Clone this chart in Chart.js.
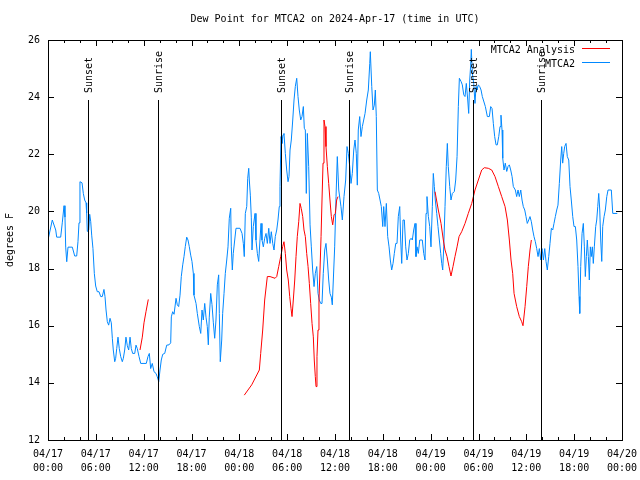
<!DOCTYPE html>
<html>
<head>
<meta charset="utf-8">
<script src="https://cdn.jsdelivr.net/npm/chart.js@4.4.0/dist/chart.umd.min.js"></script>
<style>
  body { margin: 0; background: #fff; }
  #wrap { width: 640px; height: 480px; }
</style>
</head>
<body>
<div id="wrap"><canvas id="dew-chart" width="640" height="480"></canvas></div>
<script>
const chartTitle = 'Dew Point for MTCA2 on 2024-Apr-17 (time in UTC)';
const yTitle = 'degrees F';

// x is hours since 04/17 00:00 UTC
const tickLabels = [
    ['04/17', '00:00'], ['04/17', '06:00'], ['04/17', '12:00'], ['04/17', '18:00'],
    ['04/18', '00:00'], ['04/18', '06:00'], ['04/18', '12:00'], ['04/18', '18:00'],
    ['04/19', '00:00'], ['04/19', '06:00'], ['04/19', '12:00'], ['04/19', '18:00'],
    ['04/20', '00:00']
];
const sunsetHours = [5.02, 29.23, 53.31];
const sunriseHours = [13.80, 37.76, 61.84];
const eventLineTop = 23.9; // degrees F where the sun lines start

// MTCA2 Analysis (gaps where no analysis)
const analysis = [
    [11.54, 15.15], [11.83, 15.6], [12.04, 16.1], [12.29, 16.49], [12.58, 16.92],
    [18.0, null],
    [24.62, 13.57], [25.55, 13.93], [26.51, 14.45], [26.68, 15.03], [26.93, 15.85], [27.18, 16.9],
    [27.51, 17.72], [27.85, 17.72], [28.48, 17.66], [28.69, 17.72], [28.94, 18.07], [29.19, 18.42],
    [29.44, 18.77], [29.60, 18.94], [29.77, 18.53], [29.94, 17.95], [30.14, 17.6], [30.32, 17.02],
    [30.48, 16.61], [30.61, 16.32], [30.77, 16.9], [30.95, 17.6], [31.11, 18.42], [31.27, 19.12],
    [31.45, 19.64], [31.61, 20.28], [31.77, 20.1], [31.95, 19.82], [32.11, 19.35], [32.28, 19.12],
    [32.45, 18.53], [32.62, 18.07], [32.78, 17.48], [32.95, 16.78], [33.12, 16.08], [33.28, 15.61],
    [33.40, 14.8], [33.53, 14.22], [33.62, 13.87], [33.74, 14.92], [33.87, 15.85], [33.99, 16.9],
    [34.12, 17.95], [34.25, 19.12], [34.37, 20.4], [34.50, 21.69], [34.62, 23.2], [34.75, 22.97],
    [34.87, 22.27], [35.04, 21.57], [35.21, 20.98], [35.37, 20.4], [35.54, 19.82], [35.71, 19.53],
    [35.88, 19.88], [36.04, 19.93], [36.21, 20.4], [36.38, 20.52],
    [42.0, null],
    [48.55, 20.69], [48.96, 20.05], [49.30, 19.58], [49.59, 19.0], [49.80, 18.65], [50.05, 18.42],
    [50.30, 18.07], [50.55, 17.74], [50.80, 18.07], [51.05, 18.42], [51.31, 18.76], [51.56, 19.12],
    [51.89, 19.29], [52.31, 19.58], [52.72, 19.93], [53.15, 20.28], [53.56, 20.75], [53.98, 21.1],
    [54.40, 21.45], [54.73, 21.53], [55.23, 21.51], [55.66, 21.45], [56.07, 21.22], [56.49, 20.87],
    [56.91, 20.52], [57.33, 20.17], [57.62, 19.7], [57.87, 19.0], [58.08, 18.3], [58.29, 17.83],
    [58.46, 17.13], [58.79, 16.67], [59.12, 16.32], [59.42, 16.14], [59.58, 16.0], [59.84, 16.67],
    [60.05, 17.37], [60.25, 18.07], [60.46, 18.65], [60.63, 19.0]
];

// MTCA2 observations
const observed = [
    [0.00, 19.0], [0.54, 19.7], [0.97, 19.35], [1.09, 19.1], [1.59, 19.1], [1.79, 19.6], [2.01, 20.2],
    [2.13, 19.8], [2.22, 18.75], [2.35, 18.24], [2.51, 18.75], [3.05, 18.75], [3.35, 18.44], [3.60, 18.44],
    [3.76, 18.94], [3.89, 19.6], [4.01, 21.04], [4.27, 21.0], [4.43, 20.63], [4.60, 20.4], [4.77, 20.3],
    [4.85, 19.94], [4.93, 19.3], [5.11, 19.35], [5.23, 19.9], [5.36, 19.64], [5.48, 19.17], [5.64, 18.7],
    [5.81, 17.83], [5.98, 17.39], [6.18, 17.19], [6.40, 17.19], [6.61, 17.02], [6.81, 17.02], [7.02, 17.27],
    [7.15, 17.02], [7.28, 16.55], [7.44, 16.14], [7.61, 16.02], [7.78, 16.26], [7.94, 16.1], [8.07, 15.56],
    [8.19, 15.15], [8.37, 14.74], [8.49, 14.86], [8.62, 15.2], [8.78, 15.6], [8.94, 15.2], [9.12, 14.92],
    [9.32, 14.74], [9.45, 14.86], [9.62, 15.15], [9.78, 15.6], [9.95, 15.3], [10.12, 15.15], [10.29, 15.6],
    [10.45, 15.2], [10.62, 15.03], [10.88, 15.03], [11.04, 15.32], [11.20, 15.2], [11.42, 14.92],
    [11.63, 14.68], [12.04, 14.68], [12.33, 14.68], [12.54, 14.92], [12.71, 15.03], [12.88, 14.5],
    [13.08, 14.68], [13.30, 14.39], [13.55, 14.33], [13.71, 14.21], [13.89, 14.04], [14.05, 14.45],
    [14.21, 14.8], [14.39, 15.0], [14.64, 15.03], [14.89, 15.32], [15.18, 15.33], [15.39, 15.4],
    [15.47, 16.31], [15.64, 16.49], [15.81, 16.4], [16.06, 16.96], [16.22, 16.73], [16.39, 16.67],
    [16.56, 17.07], [16.72, 17.72], [16.90, 18.13], [17.06, 18.42], [17.22, 18.77], [17.40, 19.1],
    [17.56, 19.0], [17.72, 18.77], [17.90, 18.47], [18.06, 18.25], [18.23, 17.83], [18.31, 17.07],
    [18.57, 16.78], [18.73, 16.43], [18.98, 15.97], [19.16, 15.73], [19.32, 16.55], [19.48, 16.2],
    [19.66, 16.78], [19.82, 16.3], [19.98, 15.97], [20.11, 15.33], [20.23, 16.3], [20.41, 17.13],
    [20.57, 16.74], [20.74, 16.1], [20.91, 15.56], [21.07, 16.2], [21.24, 17.43], [21.41, 17.78],
    [21.49, 16.43], [21.61, 14.74], [21.79, 15.5], [21.91, 16.43], [22.08, 17.13], [22.24, 17.83],
    [22.42, 18.3], [22.58, 18.76], [22.74, 19.76], [22.92, 20.11], [22.99, 18.76], [23.12, 17.95],
    [23.24, 18.53], [23.42, 19.0], [23.58, 19.41], [24.08, 19.41], [24.34, 19.23], [24.50, 18.88],
    [24.62, 18.42], [24.75, 19.93], [24.93, 20.17], [25.05, 21.16], [25.18, 21.51], [25.25, 21.1],
    [25.38, 20.57], [25.50, 19.8], [25.59, 18.65], [25.75, 19.47], [25.97, 19.93], [26.09, 19.0],
    [26.26, 18.53], [26.43, 18.25], [26.59, 19.0], [26.72, 19.58], [26.84, 19.0], [27.01, 18.76],
    [27.18, 19.06], [27.35, 19.23], [27.51, 18.88], [27.69, 19.41], [27.85, 18.88], [28.01, 19.29],
    [28.19, 18.88], [28.35, 18.65], [28.51, 19.12], [28.69, 19.35], [28.85, 19.7], [29.01, 20.17],
    [29.10, 20.87], [29.23, 22.62], [29.35, 22.38], [29.48, 22.68], [29.60, 22.73], [29.77, 22.03],
    [29.94, 21.45], [30.11, 21.04], [30.23, 21.22], [30.36, 22.15], [30.52, 22.5], [30.70, 23.2],
    [30.86, 23.9], [31.02, 24.37], [31.20, 24.66], [31.36, 24.02], [31.52, 23.55], [31.70, 23.2],
    [31.86, 23.32], [32.03, 23.67], [32.15, 22.91], [32.28, 22.85], [32.40, 20.63], [32.53, 22.73],
    [32.70, 21.57], [32.87, 19.53], [33.03, 18.76], [33.20, 17.95], [33.37, 17.37], [33.53, 17.83],
    [33.71, 18.07], [33.87, 17.13], [34.03, 16.9], [34.21, 16.78], [34.37, 16.78], [34.53, 17.83],
    [34.71, 18.65], [34.87, 18.88], [35.04, 18.3], [35.21, 17.6], [35.37, 17.13], [35.54, 17.0],
    [35.66, 16.73], [35.79, 17.6], [35.96, 18.76], [36.13, 20.52], [36.29, 21.92], [36.47, 20.75],
    [36.75, 20.17], [36.92, 19.7], [37.13, 20.52], [37.34, 21.1], [37.51, 22.27], [37.67, 22.03],
    [37.85, 21.57], [38.01, 20.98], [38.17, 21.33], [38.35, 22.15], [38.51, 22.5], [38.67, 22.03],
    [38.80, 20.92], [38.92, 22.85], [39.10, 23.32], [39.26, 22.62], [39.43, 22.97], [39.60, 23.2],
    [39.77, 23.43], [39.98, 23.9], [40.18, 24.25], [40.36, 25.18], [40.43, 25.59], [40.61, 24.37],
    [40.77, 23.55], [40.93, 23.72], [41.06, 24.25], [41.18, 23.32], [41.31, 20.75], [41.48, 20.63],
    [41.65, 20.4], [41.81, 20.17], [41.99, 19.47], [42.11, 20.17], [42.27, 19.47], [42.44, 20.28],
    [42.61, 19.12], [42.78, 18.76], [42.94, 18.3], [43.11, 17.95], [43.28, 18.18], [43.44, 18.53],
    [43.62, 18.88], [43.78, 18.88], [43.94, 19.82], [44.12, 20.17], [44.24, 19.0], [44.37, 18.18],
    [44.53, 19.7], [44.70, 19.7], [44.87, 18.76], [45.03, 18.3], [45.20, 18.53], [45.37, 19.0],
    [45.54, 19.06], [45.70, 19.0], [45.87, 19.35], [46.04, 19.58], [46.16, 18.42], [46.29, 18.76],
    [46.45, 18.53], [46.63, 19.0], [46.95, 19.0], [47.13, 18.53], [47.29, 18.3], [47.42, 19.93],
    [47.54, 20.52], [47.71, 19.82], [47.88, 19.47], [48.04, 18.76], [48.21, 20.17], [48.33, 21.33],
    [48.46, 20.87], [48.58, 20.4], [48.76, 19.93], [48.92, 19.47], [49.09, 19.0], [49.26, 18.53],
    [49.39, 18.18], [49.51, 17.95], [49.64, 18.76], [49.80, 20.17], [49.96, 21.57], [50.09, 22.38],
    [50.21, 21.57], [50.39, 20.87], [50.55, 20.4], [50.72, 20.63], [50.97, 20.7], [51.14, 21.1],
    [51.31, 21.92], [51.47, 23.67], [51.60, 24.66], [51.81, 24.55], [51.97, 24.43], [52.15, 24.08],
    [52.31, 24.02], [52.47, 24.48], [52.65, 23.9], [52.77, 23.43], [52.90, 24.6], [53.02, 25.12],
    [53.10, 25.67], [53.23, 24.83], [53.40, 24.48], [53.56, 23.78], [53.69, 24.37], [53.81, 24.25],
    [53.98, 24.43], [54.15, 24.37], [54.32, 24.25], [54.48, 24.02], [54.61, 23.9], [54.86, 23.67],
    [55.11, 23.32], [55.36, 23.32], [55.53, 23.67], [55.70, 23.6], [55.86, 23.08], [56.03, 22.62],
    [56.20, 22.33], [56.36, 22.33], [56.54, 22.62], [56.70, 22.97], [56.82, 23.37], [56.95, 22.85],
    [57.04, 21.86], [57.20, 21.45], [57.36, 21.69], [57.54, 21.4], [57.70, 21.57], [57.87, 21.63],
    [58.04, 21.45], [58.21, 21.22], [58.37, 20.87], [58.62, 20.75], [58.79, 20.52], [58.96, 20.75],
    [59.12, 20.52], [59.30, 20.75], [59.46, 20.4], [59.62, 20.17], [59.80, 20.05], [59.96, 19.82],
    [60.12, 19.58], [60.30, 19.7], [60.46, 19.82], [60.63, 19.64], [60.80, 19.35], [60.96, 19.12],
    [61.13, 18.94], [61.30, 18.7], [61.47, 18.42], [61.63, 18.7], [61.81, 18.3], [61.97, 18.7],
    [62.14, 18.3], [62.31, 18.7], [62.47, 18.25], [62.63, 17.95], [62.81, 18.42], [62.97, 18.88],
    [63.14, 19.41], [63.31, 19.35], [63.47, 19.58], [63.64, 19.82], [63.81, 20.05], [63.97, 20.22],
    [64.14, 20.98], [64.31, 21.8], [64.44, 22.27], [64.56, 21.69], [64.69, 22.03], [64.81, 22.27],
    [64.98, 22.38], [65.14, 21.92], [65.32, 21.8], [65.48, 20.87], [65.64, 20.4], [65.82, 19.82],
    [65.98, 19.47], [66.15, 19.47], [66.32, 19.0], [66.48, 18.07], [66.61, 17.02], [66.70, 16.43],
    [66.82, 18.07], [66.99, 19.23], [67.15, 19.58], [67.28, 18.76], [67.40, 17.72], [67.53, 18.42],
    [67.65, 19.0], [67.78, 18.42], [67.90, 17.6], [68.03, 18.76], [68.15, 18.42], [68.28, 18.76],
    [68.40, 18.18], [68.53, 18.76], [68.70, 19.47], [68.83, 19.7], [68.96, 20.17], [69.08, 20.63],
    [69.21, 20.05], [69.33, 19.0], [69.46, 18.25], [69.58, 19.47], [69.75, 19.82], [69.91, 20.05],
    [70.09, 20.52], [70.25, 20.75], [70.66, 20.75], [70.84, 19.93], [71.41, 19.93]
];

const redColor = '#ff0000';
const blueColor = '#0088ff';
const mono = 'DejaVu Sans Mono';

Chart.defaults.font.family = mono;
Chart.defaults.font.size = 10;
Chart.defaults.color = '#000';

const toPoints = (pairs) => pairs.map(p => ({ x: p[0], y: p[1] }));

function line(ctx, x1, y1, x2, y2, color, width) {
    ctx.beginPath();
    ctx.strokeStyle = color || '#000';
    ctx.lineWidth = width || 1;
    ctx.moveTo(x1, y1);
    ctx.lineTo(x2, y2);
    ctx.stroke();
}

// gnuplot-ish frame, inward ticks, sun lines, title and legend
const gnuplotLook = {
    id: 'gnuplotLook',
    afterDatasetsDraw(chart) {
        const { ctx, chartArea: a, scales: { x, y } } = chart;
        ctx.save();
        ctx.fillStyle = '#000';
        ctx.font = `10px "${mono}"`;

        const lineTop = Math.round(y.getPixelForValue(eventLineTop));
        const drawEvent = (h, label) => {
            const px = Math.round(x.getPixelForValue(h)) + 0.5;
            line(ctx, px, lineTop, px, a.bottom);
            ctx.save();
            ctx.translate(px + 1, lineTop - 7);
            ctx.rotate(-Math.PI / 2);
            ctx.textAlign = 'left';
            ctx.textBaseline = 'middle';
            ctx.fillText(label, 0, 0);
            ctx.restore();
        };
        sunsetHours.forEach(h => drawEvent(h, 'Sunset'));
        sunriseHours.forEach(h => drawEvent(h, 'Sunrise'));

        ctx.strokeStyle = '#000';
        ctx.lineWidth = 1;
        ctx.strokeRect(a.left + 0.5, a.top + 0.5, a.right - a.left, a.bottom - a.top);

        x.ticks.forEach(t => {
            const px = Math.round(x.getPixelForValue(t.value)) + 0.5;
            const len = Math.round(t.value) % 6 === 0 ? 6 : 3;
            line(ctx, px, a.bottom, px, a.bottom - len);
            line(ctx, px, a.top, px, a.top + len);
        });
        y.ticks.forEach(t => {
            const py = Math.round(y.getPixelForValue(t.value)) + 0.5;
            line(ctx, a.left, py, a.left + 6, py);
            line(ctx, a.right, py, a.right - 6, py);
        });
        ctx.restore();
    },
    afterDraw(chart) {
        const { ctx, chartArea: a } = chart;
        ctx.save();
        ctx.font = `10px "${mono}"`;
        ctx.textBaseline = 'middle';

        // legend: text first, sample line to its right
        const entries = [
            { label: 'MTCA2 Analysis', color: redColor },
            { label: 'MTCA2', color: blueColor }
        ];
        entries.forEach((e, i) => {
            const ly = a.top + 8 + i * 14;
            ctx.fillStyle = '#000';
            ctx.textAlign = 'right';
            ctx.fillText(e.label, a.right - 47, ly + 2);
            line(ctx, a.right - 40, ly + 0.5, a.right - 12, ly + 0.5, e.color);
        });

        ctx.fillStyle = '#000';
        ctx.textAlign = 'center';
        ctx.fillText(chartTitle, (a.left + a.right) / 2, 19);
        ctx.restore();
    }
};

new Chart(document.getElementById('dew-chart').getContext('2d'), {
    type: 'line',
    data: {
        datasets: [
            {
                label: 'MTCA2 Analysis',
                data: toPoints(analysis),
                borderColor: redColor,
                borderWidth: 1,
                pointRadius: 0,
                spanGaps: false,
                tension: 0
            },
            {
                label: 'MTCA2',
                data: toPoints(observed),
                borderColor: blueColor,
                borderWidth: 1,
                pointRadius: 0,
                tension: 0
            }
        ]
    },
    options: {
        responsive: false,
        animation: false,
        layout: { padding: { top: 40, right: 18, left: 0, bottom: 0 } },
        plugins: {
            legend: { display: false },
            title: { display: false },
            tooltip: { enabled: false }
        },
        scales: {
            x: {
                type: 'linear',
                min: 0,
                max: 72,
                border: { display: false },
                grid: { display: false, drawTicks: false },
                ticks: {
                    stepSize: 2,
                    autoSkip: false,
                    maxRotation: 0,
                    padding: 7,
                    font: { size: 10, lineHeight: 1.4 },
                    callback: (v) => Math.round(v) % 6 === 0 ? tickLabels[Math.round(v) / 6] : ''
                },
                afterFit(scale) {
                    scale.height = 40;
                    scale.paddingLeft = 0;
                    scale.paddingRight = 0;
                }
            },
            y: {
                min: 12,
                max: 26,
                border: { display: false },
                grid: { display: false, drawTicks: false },
                ticks: { stepSize: 2, padding: 8 },
                title: {
                    display: true,
                    text: yTitle,
                    padding: { top: 4, bottom: 4 },
                    font: { size: 10, lineHeight: 1.2 }
                },
                afterFit(scale) {
                    scale.width = 48;
                }
            }
        }
    },
    plugins: [gnuplotLook]
});
</script>
</body>
</html>
